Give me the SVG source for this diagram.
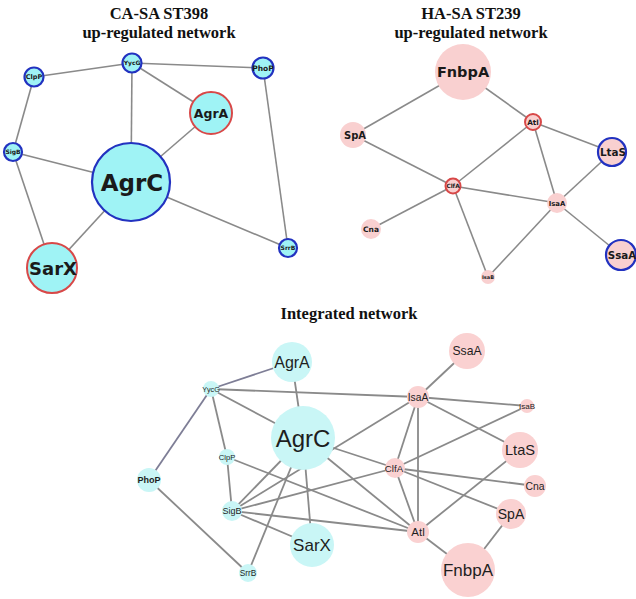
<svg xmlns="http://www.w3.org/2000/svg" width="636" height="599" viewBox="0 0 636 599">
<style>
.title{font-family:"Liberation Serif","Times New Roman",serif;font-weight:bold;font-size:16.5px;fill:#111;text-anchor:middle}
.e{stroke:#8a8a8a;stroke-width:1.6;fill:none}
.e2{stroke:#8a8a8a;stroke-width:1.8;fill:none}
.ep{stroke:#7e7e96}
.cy{fill:#9ff3f5}
.pk{fill:#f9d0d0}
.bs{stroke:#2232c0;stroke-width:2.2}
.rs{stroke:#d84848;stroke-width:2}
.cy2{fill:#c9f6f6}
.pk2{fill:#fad1d1}
.lt{font-family:"DejaVu Sans",sans-serif;font-weight:bold;fill:#1a1a1a;text-anchor:middle}
.lb{font-family:"Liberation Sans",Arial,sans-serif;fill:#1e1e1e;text-anchor:middle}
</style>
<rect width="636" height="599" fill="#fff"/>

<text class="title" x="159" y="19">CA-SA ST398</text>
<text class="title" x="159" y="38">up-regulated network</text>
<text class="title" x="471" y="19">HA-SA ST239</text>
<text class="title" x="471" y="38">up-regulated network</text>
<text class="title" x="349" y="319" font-size="17">Integrated network</text>

<g id="connectors">
  <!-- top-left -->
  <line class="e" x1="132" y1="63" x2="34" y2="77"/>
  <line class="e" x1="132" y1="63" x2="263" y2="68"/>
  <line class="e" x1="132" y1="63" x2="211" y2="113"/>
  <line class="e" x1="132" y1="63" x2="131" y2="182"/>
  <line class="e" x1="34" y1="77" x2="13" y2="152"/>
  <line class="e" x1="13" y1="152" x2="131" y2="182"/>
  <line class="e" x1="13" y1="152" x2="52" y2="268"/>
  <line class="e" x1="211" y1="113" x2="131" y2="182"/>
  <line class="e" x1="131" y1="182" x2="52" y2="268"/>
  <line class="e" x1="131" y1="182" x2="288" y2="248"/>
  <line class="e" x1="263" y1="68" x2="288" y2="248"/>
  <!-- top-right -->
  <line class="e" x1="463" y1="72" x2="353" y2="135"/>
  <line class="e" x1="463" y1="72" x2="533" y2="122"/>
  <line class="e" x1="353" y1="135" x2="453" y2="186"/>
  <line class="e" x1="533" y1="122" x2="453" y2="186"/>
  <line class="e" x1="533" y1="122" x2="612" y2="152"/>
  <line class="e" x1="533" y1="122" x2="557" y2="203"/>
  <line class="e" x1="453" y1="186" x2="557" y2="203"/>
  <line class="e" x1="453" y1="186" x2="371" y2="229"/>
  <line class="e" x1="453" y1="186" x2="488" y2="277"/>
  <line class="e" x1="557" y1="203" x2="612" y2="152"/>
  <line class="e" x1="557" y1="203" x2="621" y2="255"/>
  <line class="e" x1="557" y1="203" x2="488" y2="277"/>
  <!-- integrated -->
  <line class="e2 ep" x1="292" y1="362" x2="211" y2="389"/>
  <line class="e2" x1="292" y1="362" x2="303" y2="438"/>
  <line class="e2" x1="211" y1="389" x2="418" y2="397"/>
  <line class="e2" x1="211" y1="389" x2="303" y2="438"/>
  <line class="e2" x1="211" y1="389" x2="227" y2="457"/>
  <line class="e2 ep" x1="211" y1="389" x2="149" y2="480"/>
  <line class="e2" x1="149" y1="480" x2="248" y2="573"/>
  <line class="e2" x1="227" y1="457" x2="232" y2="511"/>
  <line class="e2" x1="227" y1="457" x2="418" y2="532"/>
  <line class="e2" x1="303" y1="438" x2="418" y2="532"/>
  <line class="e2" x1="303" y1="438" x2="395" y2="468"/>
  <line class="e2" x1="303" y1="438" x2="312" y2="545"/>
  <line class="e2" x1="232" y1="511" x2="303" y2="438"/>
  <line class="e2" x1="232" y1="511" x2="418" y2="397"/>
  <line class="e2" x1="248" y1="573" x2="303" y2="438"/>
  <line class="e2" x1="232" y1="511" x2="395" y2="468"/>
  <line class="e2" x1="232" y1="511" x2="418" y2="532"/>
  <line class="e2" x1="232" y1="511" x2="312" y2="545"/>
  <line class="e2" x1="418" y1="397" x2="467" y2="351"/>
  <line class="e2" x1="418" y1="397" x2="527" y2="406"/>
  <line class="e2" x1="418" y1="397" x2="520" y2="450"/>
  <line class="e2" x1="418" y1="397" x2="395" y2="468"/>
  <line class="e2" x1="418" y1="397" x2="418" y2="532"/>
  <line class="e2" x1="527" y1="406" x2="395" y2="468"/>
  <line class="e2" x1="395" y1="468" x2="535" y2="486"/>
  <line class="e2" x1="395" y1="468" x2="511" y2="514"/>
  <line class="e2" x1="395" y1="468" x2="418" y2="532"/>
  <line class="e2" x1="418" y1="532" x2="520" y2="450"/>
  <line class="e2" x1="418" y1="532" x2="468" y2="570"/>
  <line class="e2" x1="511" y1="514" x2="468" y2="570"/>
</g>

<!-- top-left nodes -->
<g id="tl-YycG"><circle class="cy bs" cx="132" cy="63" r="9.5"/><text class="lt" x="132" y="65.2" font-size="6">YycG</text></g>
<g id="tl-ClpP"><circle class="cy bs" cx="34" cy="77" r="9.5"/><text class="lt" x="34" y="79.3" font-size="6.5">ClpP</text></g>
<g id="tl-PhoP"><circle class="cy bs" cx="263" cy="68" r="10.5"/><text class="lt" x="263" y="70.7" font-size="7.5">PhoP</text></g>
<g id="tl-AgrA"><circle class="cy rs" cx="211" cy="113" r="21"/><text class="lt" x="211" y="117.5" font-size="12.5">AgrA</text></g>
<g id="tl-SigB"><circle class="cy bs" cx="13" cy="152" r="9"/><text class="lt" x="13" y="154.2" font-size="6">SigB</text></g>
<g id="tl-AgrC"><circle class="cy bs" cx="131" cy="182" r="39"/><text class="lt" x="132" y="190.5" font-size="23">AgrC</text></g>
<g id="tl-SrrB"><circle class="cy bs" cx="288" cy="248" r="9"/><text class="lt" x="288" y="250.2" font-size="6">SrrB</text></g>
<g id="tl-SarX"><circle class="cy rs" cx="52" cy="268" r="25"/><text class="lt" x="53" y="274.5" font-size="18">SarX</text></g>

<!-- top-right nodes -->
<g id="tr-FnbpA"><circle class="pk" cx="463" cy="72" r="28"/><text class="lt" x="463" y="77.3" font-size="14.5">FnbpA</text></g>
<g id="tr-SpA"><circle class="pk" cx="353" cy="135" r="13"/><text class="lt" x="355" y="138.6" font-size="10">SpA</text></g>
<g id="tr-Atl"><circle class="pk rs" cx="533" cy="122" r="8"/><text class="lt" x="533" y="124.6" font-size="7.3">Atl</text></g>
<g id="tr-LtaS"><circle class="pk bs" cx="612" cy="152" r="14"/><text class="lt" x="613" y="155.8" font-size="10.4">LtaS</text></g>
<g id="tr-ClfA"><circle class="pk rs" cx="453" cy="186" r="7.5"/><text class="lt" x="453" y="188.1" font-size="5.8">ClfA</text></g>
<g id="tr-IsaA"><circle class="pk" cx="557" cy="203" r="10"/><text class="lt" x="557" y="205.5" font-size="6.9">IsaA</text></g>
<g id="tr-Cna"><circle class="pk" cx="371" cy="229" r="10"/><text class="lt" x="371" y="231.7" font-size="7.5">Cna</text></g>
<g id="tr-SsaA"><circle class="pk bs" cx="621" cy="255" r="15"/><text class="lt" x="622" y="258.8" font-size="10.3">SsaA</text></g>
<g id="tr-IsaB"><circle class="pk" cx="488" cy="277" r="7"/><text class="lt" x="488" y="278.8" font-size="5">IsaB</text></g>

<!-- integrated nodes -->
<g id="in-AgrA"><circle class="cy2" cx="292" cy="362" r="20"/><text class="lb" x="292" y="368" font-size="16">AgrA</text></g>
<g id="in-YycG"><circle class="cy2" cx="211" cy="389" r="8"/><text class="lb" x="211" y="391.6" font-size="7.2">YycG</text></g>
<g id="in-AgrC"><circle class="cy2" cx="303" cy="438" r="32"/><text class="lb" x="303" y="446.5" font-size="24">AgrC</text></g>
<g id="in-ClpP"><circle class="cy2" cx="227" cy="457" r="8"/><text class="lb" x="227" y="459.8" font-size="7.7">ClpP</text></g>
<g id="in-PhoP"><circle class="cy2" cx="149" cy="480" r="12"/><text class="lb" x="149" y="483.2" font-size="9" font-weight="bold">PhoP</text></g>
<g id="in-SigB"><circle class="cy2" cx="232" cy="511" r="10"/><text class="lb" x="232" y="514.3" font-size="9">SigB</text></g>
<g id="in-SarX"><circle class="cy2" cx="312" cy="545" r="22"/><text class="lb" x="312" y="551.2" font-size="17">SarX</text></g>
<g id="in-SrrB"><circle class="cy2" cx="248" cy="573" r="9"/><text class="lb" x="248" y="576" font-size="8.3">SrrB</text></g>
<g id="in-SsaA"><circle class="pk2" cx="467" cy="351" r="18"/><text class="lb" x="467" y="355.4" font-size="12.2">SsaA</text></g>
<g id="in-IsaA"><circle class="pk2" cx="418" cy="397" r="11"/><text class="lb" x="418" y="400.7" font-size="10.3">IsaA</text></g>
<g id="in-IsaB"><circle class="pk2" cx="527" cy="406" r="7"/><text class="lb" x="527" y="408.9" font-size="8">IsaB</text></g>
<g id="in-LtaS"><circle class="pk2" cx="520" cy="450" r="18"/><text class="lb" x="520" y="455.3" font-size="14.6">LtaS</text></g>
<g id="in-ClfA"><circle class="pk2" cx="395" cy="468" r="10"/><text class="lb" x="394" y="471.5" font-size="9.7">ClfA</text></g>
<g id="in-Cna"><circle class="pk2" cx="535" cy="486" r="11"/><text class="lb" x="535" y="489.7" font-size="10.4">Cna</text></g>
<g id="in-SpA"><circle class="pk2" cx="511" cy="514" r="15"/><text class="lb" x="511" y="519" font-size="14">SpA</text></g>
<g id="in-Atl"><circle class="pk2" cx="418" cy="532" r="11"/><text class="lb" x="418" y="536" font-size="11.5">Atl</text></g>
<g id="in-FnbpA"><circle class="pk2" cx="468" cy="570" r="27"/><text class="lb" x="468" y="576.2" font-size="17">FnbpA</text></g>
</svg>
